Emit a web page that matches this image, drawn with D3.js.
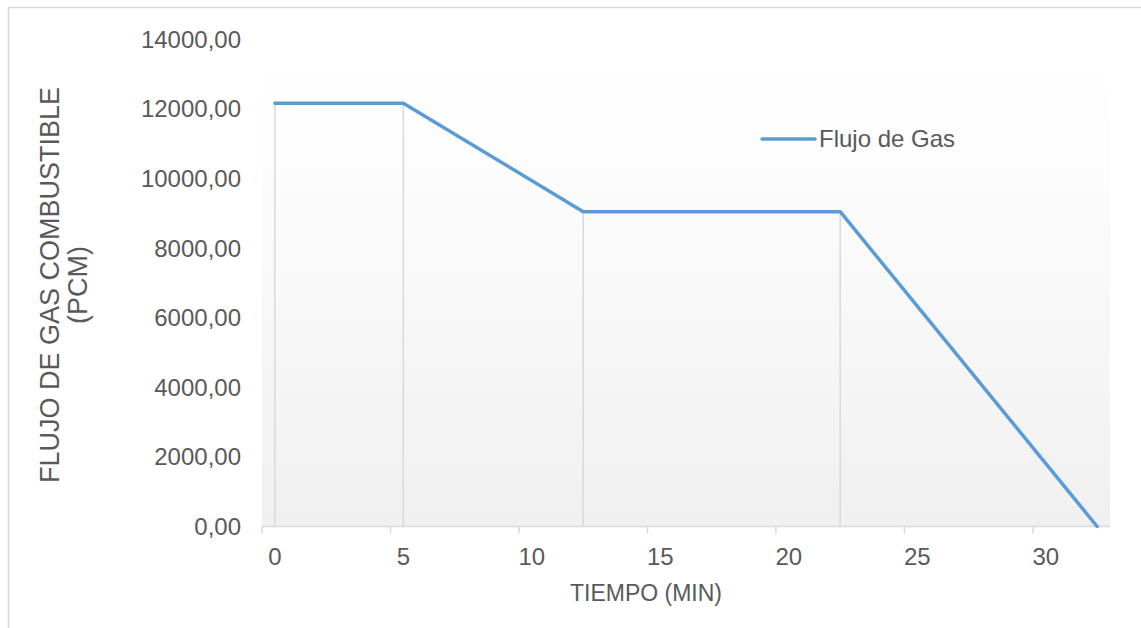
<!DOCTYPE html>
<html>
<head>
<meta charset="utf-8">
<script src="https://cdn.jsdelivr.net/npm/d3@7"></script>
<style>
  body { margin: 0; background: #fff; }
  text { font-family: "Liberation Sans", Arial, sans-serif; }
</style>
</head>
<body>
<div id="chart"></div>
<script>
// datos
let tiempo = [0, 5, 12, 22, 32]
let flujo = [12170, 12170, 9050, 9050, 0]
let xTicks = [0, 5, 10, 15, 20, 25, 30]
let yTicks = [0, 2000, 4000, 6000, 8000, 10000, 12000, 14000]
let serieName = "Flujo de Gas"

let width = 1141, height = 628
let plot = { left: 262, right: 1110, top: 39.5, bottom: 526.5 }

let svg = d3.select("#chart")
    .append("svg")
    .attr("width", width)
    .attr("height", height)

// borde del grafico
svg.append("rect")
    .attr("x", 8.5).attr("y", 7.5)
    .attr("width", 1200).attr("height", 700)
    .attr("fill", "none")
    .attr("stroke", "#d9d9d9")
    .attr("stroke-width", 1.5)

let x = d3.scaleLinear().domain([-0.5, 32.5]).range([plot.left, plot.right])
let y = d3.scaleLinear().domain([0, 14000]).range([plot.bottom, plot.top])

// fondo degradado
let grad = svg.append("defs").append("linearGradient")
    .attr("id", "bg").attr("x1", 0).attr("y1", 0).attr("x2", 0).attr("y2", 1)
grad.append("stop").attr("offset", "0%").attr("stop-color", "#ffffff")
grad.append("stop").attr("offset", "25%").attr("stop-color", "#fdfdfd")
grad.append("stop").attr("offset", "100%").attr("stop-color", "#f0f0f0")

svg.append("rect")
    .attr("x", plot.left).attr("y", plot.top)
    .attr("width", plot.right - plot.left)
    .attr("height", plot.bottom - plot.top)
    .attr("fill", "url(#bg)")

// lineas de caida
svg.selectAll(".dropLines")
    .data(tiempo)
    .enter()
    .append("line")
    .attr("class", "dropLines")
    .attr("x1", d => x(d)).attr("x2", d => x(d))
    .attr("y1", (d, i) => y(flujo[i]))
    .attr("y2", plot.bottom)
    .attr("stroke", "#d9d9d9")
    .attr("stroke-width", 1.5)

// eje x
svg.append("line")
    .attr("x1", plot.left).attr("x2", plot.right)
    .attr("y1", plot.bottom).attr("y2", plot.bottom)
    .attr("stroke", "#d9d9d9").attr("stroke-width", 1.5)

svg.selectAll(".xTick")
    .data(xTicks)
    .enter()
    .append("line")
    .attr("class", "xTick")
    .attr("x1", d => x(d - 0.5)).attr("x2", d => x(d - 0.5))
    .attr("y1", plot.bottom).attr("y2", plot.bottom + 7)
    .attr("stroke", "#d9d9d9").attr("stroke-width", 1.5)

svg.selectAll(".xLabel")
    .data(xTicks)
    .enter()
    .append("text")
    .attr("class", "xLabel")
    .attr("x", d => x(d))
    .attr("y", 557)
    .attr("dy", "0.35em")
    .attr("text-anchor", "middle")
    .style("font-size", "24px")
    .style("fill", "#595959")
    .text(d => d)

// eje y (etiquetas)
svg.selectAll(".yLabel")
    .data(yTicks)
    .enter()
    .append("text")
    .attr("class", "yLabel")
    .attr("x", 241)
    .attr("y", d => y(d))
    .attr("dy", "0.35em")
    .attr("text-anchor", "end")
    .style("font-size", "24px")
    .style("fill", "#595959")
    .text(d => d3.format(".2f")(d).replace(".", ","))

// serie
let line = d3.line()
    .x(d => x(d[0]))
    .y(d => y(d[1]))

svg.append("path")
    .datum(tiempo.map((t, i) => [t, flujo[i]]))
    .attr("d", line)
    .attr("fill", "none")
    .attr("stroke", "#5b9bd5")
    .attr("stroke-width", 3.5)
    .attr("stroke-linecap", "round")
    .attr("stroke-linejoin", "round")

// leyenda
svg.append("line")
    .attr("x1", 762).attr("x2", 815)
    .attr("y1", 139).attr("y2", 139)
    .attr("stroke", "#5b9bd5")
    .attr("stroke-width", 3.5)
    .attr("stroke-linecap", "round")
svg.append("text")
    .attr("x", 819).attr("y", 139)
    .attr("dy", "0.35em")
    .style("font-size", "24px")
    .style("fill", "#595959")
    .text(serieName)

// titulos de ejes
svg.append("text")
    .attr("x", 646).attr("y", 593)
    .attr("dy", "0.35em")
    .attr("text-anchor", "middle")
    .style("font-size", "23px")
    .style("fill", "#595959")
    .text("TIEMPO (MIN)")

let yTitle = svg.append("text")
    .attr("transform", "translate(64," + ((plot.top + plot.bottom) / 2 + 2) + ") rotate(-90)")
    .attr("text-anchor", "middle")
    .style("font-size", "27px")
    .style("fill", "#595959")
yTitle.append("tspan").attr("x", 0).attr("dy", "-0.2em").text("FLUJO DE GAS COMBUSTIBLE")
yTitle.append("tspan").attr("x", 0).attr("dy", "1.05em").text("(PCM)")
</script>
</body>
</html>
